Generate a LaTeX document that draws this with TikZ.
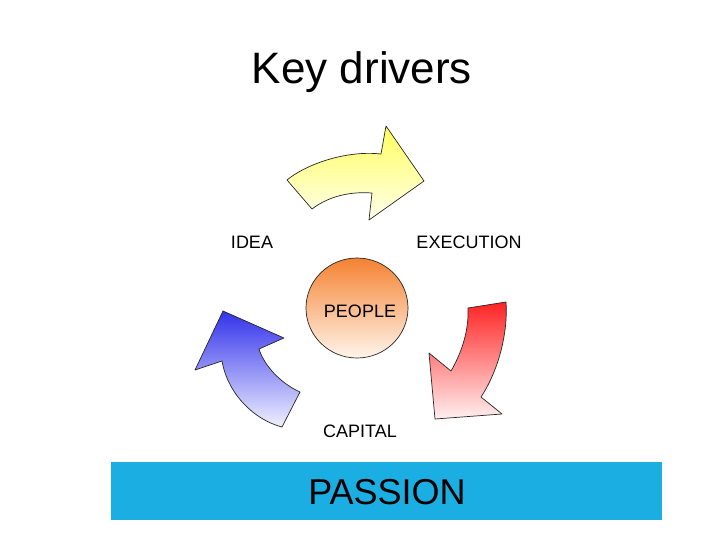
\documentclass[tikz,border=0pt]{standalone}
\usepackage{fontspec}
\setmainfont{Liberation Sans}
\begin{document}
\begin{tikzpicture}[x=1pt,y=1pt,
  lbl/.style={font=\fontsize{18}{20}\selectfont, inner sep=0pt},
  arr/.style={draw=black!85, line width=0.7pt, line join=round}]
\useasboundingbox (0,0) rectangle (728,-546);
\definecolor{passionblue}{RGB}{27,174,226}
% title
\node[inner sep=0pt, font=\fontsize{44}{48}\selectfont] (title) at (362,-72) {Key drivers};
% yellow arrow (IDEA -> EXECUTION)
\path[arr, top color={rgb,255:red,255;green,255;blue,95}, bottom color={rgb,255:red,255;green,255;blue,235}]
  (287,-180) .. controls (305,-165) and (345,-150) .. (381,-154)
  -- (386,-126) -- (424,-181) -- (369,-220) -- (372,-193)
  .. controls (345,-191) and (325,-199) .. (312,-209) -- cycle;
% red arrow (EXECUTION -> CAPITAL)
\path[arr, top color={rgb,255:red,255;green,35;blue,35}, bottom color={rgb,255:red,255;green,240;blue,240}]
  (468,-308) -- (506,-302)
  .. controls (508,-330) and (500,-368) .. (481,-397)
  -- (502,-414) -- (435,-419) -- (429,-353) -- (451,-371)
  .. controls (462,-352) and (469,-330) .. (468,-308) -- cycle;
% blue arrow (CAPITAL -> IDEA)
\path[arr, top color={rgb,255:red,50;green,50;blue,235}, bottom color={rgb,255:red,240;green,240;blue,255}]
  (222,-361) -- (195,-370) -- (223,-311) -- (284,-338) -- (259,-349)
  .. controls (264,-365) and (280,-383) .. (300,-392)
  -- (282,-427)
  .. controls (255,-420) and (228,-395) .. (222,-361) -- cycle;
% people ellipse
\path[arr, top color={rgb,255:red,245;green,130;blue,50}, bottom color={rgb,255:red,255;green,245;blue,235}]
  (357,-308) ellipse [x radius=51, y radius=50];
\node[lbl] (people) at (360,-311) {PEOPLE};
\node[lbl] (idea) at (252,-242) {IDEA};
\node[lbl] (execution) at (469,-242) {EXECUTION};
\node[lbl] (capital) at (360,-431) {CAPITAL};
% passion bar
\fill[passionblue] (111,-462) rectangle (662,-520);
\node[inner sep=0pt, font=\fontsize{36}{40}\selectfont] (passion) at (387,-492) {PASSION};
\end{tikzpicture}
\end{document}
